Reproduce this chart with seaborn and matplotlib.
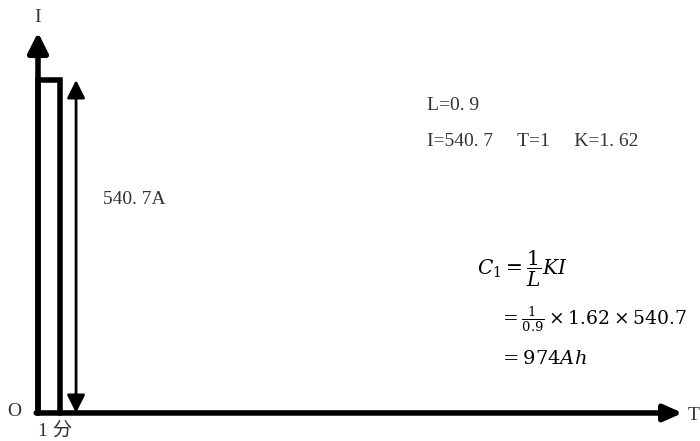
import matplotlib
matplotlib.use("Agg")
import matplotlib.pyplot as plt
import seaborn as sns
import pandas as pd

# values
current = 540.7          # A
duration = 1             # minute
L_val = 0.9
K_val = 1.62
capacity = 974           # Ah

outline_t = [0, 0, duration, duration]
outline_i = [0, current, current, 0]

sns.set_theme(style="white")
plt.rcParams['font.family'] = ['Liberation Serif', 'Noto Sans CJK SC', 'DejaVu Sans']
plt.rcParams['mathtext.fontset'] = 'dejavuserif'

fig = plt.figure(figsize=(7, 4.41), dpi=100)
ax = fig.add_axes([0, 0, 1, 1])
ax.set_xlim(-1.727, 30.09)
ax.set_ylim(-45.5, 670.6)
ax.axis('off')

# the current pulse
df = pd.DataFrame({'t': outline_t, 'I': outline_i})
sns.lineplot(data=df, x='t', y='I', sort=False, estimator=None, color='black',
             linewidth=4, ax=ax, solid_joinstyle='miter')

# axes with arrows
ax.annotate('', xy=(0, 618), xytext=(0, 0),
            arrowprops=dict(arrowstyle='-|>,head_length=1.0,head_width=0.5',
                            color='black', lw=4, shrinkA=0, shrinkB=0))
ax.annotate('', xy=(29.3, 0), xytext=(-0.08, 0),
            arrowprops=dict(arrowstyle='-|>,head_length=0.9,head_width=0.4',
                            color='black', lw=4, shrinkA=0, shrinkB=0))

# double arrow showing the current magnitude
ax.annotate('', xy=(1.73, current), xytext=(1.73, 0),
            arrowprops=dict(arrowstyle='<|-|>,head_length=0.9,head_width=0.45',
                            color='black', lw=2, shrinkA=0, shrinkB=0))

txt = dict(color='#333333', fontsize=14)
fig.text(38/700, 1 - 18/441, 'I', ha='center', va='center', **txt)
fig.text(14/700, 1 - 412/441, 'O', ha='center', va='center', **txt)
fig.text(55/700, 1 - 431/441, '1 分', ha='center', va='center', **txt)
fig.text(694/700, 1 - 415/441, 'T', ha='center', va='center', **txt)
fig.text(103/700, 1 - 200/441, f'{current}A'.replace('.', '. '), ha='left',
         va='center', **txt)
fig.text(427/700, 1 - 106/441, f'L={L_val}'.replace('.', '. '), ha='left',
         va='center', **txt)
fig.text(427/700, 1 - 141/441,
         f'I={current}     T={duration}     K={K_val}'.replace('.', '. '),
         ha='left', va='center', **txt)

mt = dict(color='black', ha='left', va='center')
fig.text(477/700, 1 - 269/441, r'$C_1 = \dfrac{1}{L}KI$', fontsize=14.5, **mt)
fig.text(499/700, 1 - 319/441,
         r'$= \frac{1}{%s} \times %s \times %s$' % (L_val, K_val, current),
         fontsize=13.5, **mt)
fig.text(499/700, 1 - 359/441, r'$= %d Ah$' % capacity, fontsize=14, **mt)

fig.savefig('out.png', dpi=100, facecolor='white')
